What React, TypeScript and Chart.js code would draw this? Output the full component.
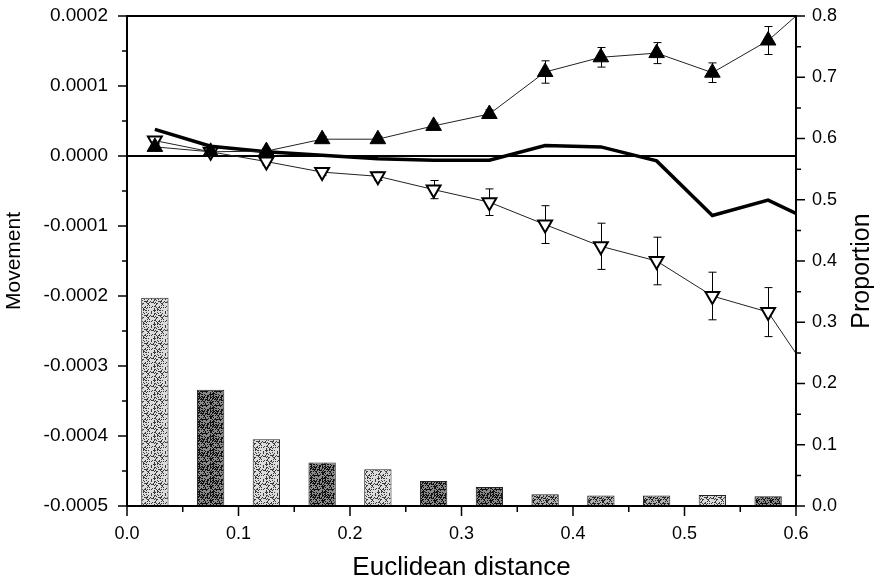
import React, { useEffect, useRef } from 'react';
import { Chart, registerables } from 'chart.js';

Chart.register(...registerables);

// ---- data ----
const X_BINS = [0.025, 0.075, 0.125, 0.175, 0.225, 0.275, 0.325, 0.375, 0.425, 0.475, 0.525, 0.575];
const X_LINE = [0.025, 0.075, 0.125, 0.175, 0.225, 0.275, 0.325, 0.375, 0.425, 0.475, 0.525, 0.575, 0.6];
const PROPORTION = [0.34, 0.19, 0.109, 0.071, 0.06, 0.041, 0.031, 0.019, 0.017, 0.017, 0.018, 0.016];
const UP_MOVE = [0.000013, 0.000006, 0.000007, 0.000024, 0.000024, 0.000043, 0.00006, 0.00012, 0.000141, 0.000147, 0.000119, 0.000165, 0.0002];
const UP_ERR = [0.000004, 0.000004, 0.000004, 0.000004, 0.000004, 0.000004, 0.000006, 0.000016, 0.000014, 0.000015, 0.000014, 0.00002, 0];
const DOWN_MOVE = [0.000022, 0.000006, -0.000008, -0.000023, -0.000029, -0.000048, -0.000066, -0.000098, -0.000129, -0.00015, -0.0002, -0.000223, -0.000282];
const DOWN_ERR = [0.000004, 0.000004, 0.000005, 0.000005, 0.000006, 0.000013, 0.000019, 0.000027, 0.000033, 0.000034, 0.000034, 0.000035, 0];
const NET_MOVE = [0.000038, 0.000014, 0.000006, 0.000001, -0.000004, -0.000006, -0.000006, 0.000015, 0.000013, -0.000007, -0.000085, -0.000063, -0.000082];
const X_TICKS = [0, 0.1, 0.2, 0.3, 0.4, 0.5, 0.6];
const X_MINOR = [0.05, 0.15, 0.25, 0.35, 0.45, 0.55];
const Y_TICKS = [-0.0005, -0.0004, -0.0003, -0.0002, -0.0001, 0, 0.0001, 0.0002];
const Y_MINOR = [-0.00045, -0.00035, -0.00025, -0.00015, -0.00005, 0.00005, 0.00015];
const Y2_TICKS = [0, 0.1, 0.2, 0.3, 0.4, 0.5, 0.6, 0.7, 0.8];
const Y2_MINOR = [0.05, 0.15, 0.25, 0.35, 0.45, 0.55, 0.65, 0.75];

const FONT = '"Liberation Sans", Arial, Helvetica, sans-serif';

function makeStipple(base: string, speck: string, density: number) {
  const c = document.createElement('canvas');
  c.width = 14;
  c.height = 14;
  const g = c.getContext('2d')!;
  g.fillStyle = base;
  g.fillRect(0, 0, 14, 14);
  g.fillStyle = speck;
  for (let i = 0; i < 14; i++) {
    for (let j = 0; j < 14; j++) {
      const h = (((i * 73856093) ^ (j * 19349663) ^ ((i + j) * 83492791)) >>> 0) % 100;
      if (h < density) g.fillRect(i, j, 1, 1);
    }
  }
  return g.createPattern(c, 'repeat');
}

const decor = {
  id: 'decor',
  beforeDatasetsDraw(chart: any) {
    const { ctx, chartArea: a, scales } = chart;
    const x = scales.x;
    const y = scales.y;
    ctx.save();
    ctx.strokeStyle = '#000';
    ctx.lineWidth = 2;
    const y0 = y.getPixelForValue(0);
    ctx.beginPath();
    ctx.moveTo(a.left, y0);
    ctx.lineTo(a.right, y0);
    ctx.stroke();
    ctx.lineWidth = 1;
    const drawErr = (vals: number[], errs: number[]) => {
      for (let i = 0; i < vals.length; i++) {
        if (!errs[i]) continue;
        const px = Math.round(x.getPixelForValue(X_LINE[i])) + 0.5;
        const t = y.getPixelForValue(vals[i] + errs[i]);
        const b = y.getPixelForValue(vals[i] - errs[i]);
        ctx.beginPath();
        ctx.moveTo(px, t);
        ctx.lineTo(px, b);
        ctx.moveTo(px - 4, t);
        ctx.lineTo(px + 4, t);
        ctx.moveTo(px - 4, b);
        ctx.lineTo(px + 4, b);
        ctx.stroke();
      }
    };
    drawErr(UP_MOVE, UP_ERR);
    drawErr(DOWN_MOVE, DOWN_ERR);
    ctx.restore();
  },
  afterDraw(chart: any) {
    const { ctx, chartArea: a, scales } = chart;
    const x = scales.x;
    const y = scales.y;
    const y2 = scales.y2;
    ctx.save();
    ctx.strokeStyle = '#000';
    ctx.lineWidth = 2;
    ctx.beginPath();
    ctx.rect(a.left, a.top, a.right - a.left, a.bottom - a.top);
    ctx.stroke();
    ctx.lineWidth = 1.5;
    ctx.beginPath();
    X_TICKS.forEach((v) => {
      const p = x.getPixelForValue(v);
      ctx.moveTo(p, a.bottom);
      ctx.lineTo(p, a.bottom + 10);
    });
    X_MINOR.forEach((v) => {
      const p = x.getPixelForValue(v);
      ctx.moveTo(p, a.bottom);
      ctx.lineTo(p, a.bottom + 6);
    });
    Y_TICKS.forEach((v) => {
      const p = y.getPixelForValue(v);
      ctx.moveTo(a.left, p);
      ctx.lineTo(a.left - 9, p);
    });
    Y_MINOR.forEach((v) => {
      const p = y.getPixelForValue(v);
      ctx.moveTo(a.left, p);
      ctx.lineTo(a.left - 5, p);
    });
    Y2_TICKS.forEach((v) => {
      const p = y2.getPixelForValue(v);
      ctx.moveTo(a.right, p);
      ctx.lineTo(a.right + 9, p);
    });
    Y2_MINOR.forEach((v) => {
      const p = y2.getPixelForValue(v);
      ctx.moveTo(a.right, p);
      ctx.lineTo(a.right + 5, p);
    });
    ctx.stroke();
    // right axis title, reading bottom to top
    ctx.fillStyle = '#000';
    ctx.font = '25px ' + FONT;
    ctx.textAlign = 'center';
    ctx.textBaseline = 'middle';
    ctx.translate(chart.width - 13, (a.top + a.bottom) / 2 + 10);
    ctx.rotate(-Math.PI / 2);
    ctx.fillText('Proportion', 0, 0);
    ctx.restore();
  },
};

export default function App() {
  const ref = useRef<HTMLCanvasElement>(null);

  useEffect(() => {
    const canvas = ref.current!;
    const light = makeStipple('#dcdcdc', '#3a3a3a', 30);
    const dark = makeStipple('#8a8a8a', '#111111', 45);
    const mid = makeStipple('#b0b0b0', '#222222', 40);
    const shades = [light, dark, light, dark, light, dark, dark, mid, mid, mid, light, dark];
    Chart.defaults.color = '#000';
    const chart = new Chart(canvas, {
      type: 'bar',
      data: {
        datasets: [
          {
            type: 'line',
            label: 'Net',
            data: X_LINE.map((v, i) => ({ x: v, y: NET_MOVE[i] })),
            borderColor: '#000',
            borderWidth: 3.5,
            pointRadius: 0,
            tension: 0,
            yAxisID: 'y',
            order: 3,
          },
          {
            type: 'line',
            label: 'Up',
            data: X_LINE.map((v, i) => ({ x: v, y: UP_MOVE[i] })),
            borderColor: '#222',
            borderWidth: 1,
            pointStyle: 'triangle',
            pointRadius: (c: any) => (c.dataIndex < X_BINS.length ? 9 : 0),
            pointBackgroundColor: '#000',
            pointBorderColor: '#000',
            pointBorderWidth: 1,
            tension: 0,
            yAxisID: 'y',
            order: 1,
          },
          {
            type: 'line',
            label: 'Down',
            data: X_LINE.map((v, i) => ({ x: v, y: DOWN_MOVE[i] })),
            borderColor: '#222',
            borderWidth: 1,
            pointStyle: 'triangle',
            pointRotation: 180,
            pointRadius: (c: any) => (c.dataIndex < X_BINS.length ? 8 : 0),
            pointBackgroundColor: '#fff',
            pointBorderColor: '#000',
            pointBorderWidth: 2,
            tension: 0,
            yAxisID: 'y',
            order: 2,
          },
          {
            type: 'bar',
            label: 'Proportion',
            data: X_BINS.map((v, i) => ({ x: v, y: PROPORTION[i] })),
            backgroundColor: shades as any,
            borderColor: '#222',
            borderWidth: 1,
            borderSkipped: false,
            barPercentage: 0.49,
            categoryPercentage: 1,
            yAxisID: 'y2',
            order: 10,
          },
        ],
      } as any,
      options: {
        animation: false,
        responsive: false,
        devicePixelRatio: 1,
        layout: { padding: { top: 16, left: 0, right: 0, bottom: 0 } },
        plugins: { legend: { display: false }, tooltip: { enabled: false } },
        scales: {
          x: {
            type: 'linear',
            min: 0,
            max: 0.6,
            offset: false,
            grid: { display: false, drawTicks: false },
            border: { display: false },
            ticks: {
              stepSize: 0.1,
              padding: 17,
              maxRotation: 0,
              font: { family: FONT, size: 18 },
              color: '#000',
              callback: (v: any) => Number(v).toFixed(1),
            },
            title: {
              display: true,
              text: 'Euclidean distance',
              font: { family: FONT, size: 26 },
              color: '#000',
              padding: { top: 0, bottom: 0 },
            },
            afterFit: (s: any) => {
              s.height = 77;
              s.paddingLeft = 0;
              s.paddingRight = 0;
            },
          },
          y: {
            type: 'linear',
            position: 'left',
            min: -0.0005,
            max: 0.0002,
            grid: { display: false, drawTicks: false },
            border: { display: false },
            ticks: {
              stepSize: 0.0001,
              padding: 19,
              font: { family: FONT, size: 19 },
              color: '#000',
              callback: (v: any) => {
                const n = Math.round(Number(v) * 1e4) / 1e4;
                return (n === 0 ? 0 : n).toFixed(4);
              },
            },
            title: {
              display: true,
              text: 'Movement',
              font: { family: FONT, size: 21 },
              color: '#000',
              padding: { top: 2, bottom: 0 },
            },
            afterFit: (s: any) => {
              s.width = 127;
              s.paddingTop = 0;
              s.paddingBottom = 0;
            },
          },
          y2: {
            type: 'linear',
            position: 'right',
            min: 0,
            max: 0.8,
            grid: { display: false, drawTicks: false },
            border: { display: false },
            ticks: {
              stepSize: 0.1,
              padding: 16,
              font: { family: FONT, size: 18 },
              color: '#000',
              callback: (v: any) => Number(v).toFixed(1),
            },
            afterFit: (s: any) => {
              s.width = 79;
              s.paddingTop = 0;
              s.paddingBottom = 0;
            },
          },
        },
      } as any,
      plugins: [decor],
    });
    return () => chart.destroy();
  }, []);

  return (
    <div style={{ position: 'fixed', left: 0, top: 0, width: 875, height: 583, background: '#fff' }}>
      <canvas ref={ref} width={875} height={583} style={{ display: 'block' }} />
    </div>
  );
}
